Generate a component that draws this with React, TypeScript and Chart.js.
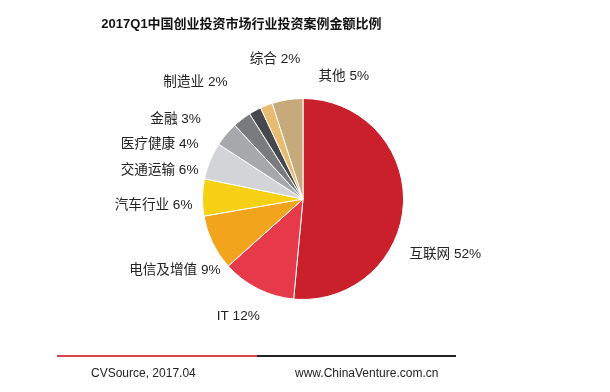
import React, { useEffect, useRef } from "react";
import { Chart, registerables } from "chart.js";

Chart.register(...registerables);

const categories = ["互联网", "IT", "电信及增值", "汽车行业", "交通运输", "医疗健康", "金融", "制造业", "综合", "其他"];
const values = [52, 12, 9, 6, 6, 4, 3, 2, 2, 5];
const colors = ["#C9202B", "#E63A4A", "#F2A41C", "#F6D014", "#D3D4D7", "#A7A8AB", "#7A7B7E", "#46484B", "#E7BC72", "#C7AA7B"];
// label placement relative to the slice's outer mid-point: [dx, dy, align]
const labelLayout: [number, number, CanvasTextAlign][] = [
  [6, 51, "left"],
  [2, 27, "right"],
  [8, 27, "right"],
  [-10, 8, "right"],
  [-11.5, 9, "right"],
  [-27.5, 10, "right"],
  [-41, 0, "right"],
  [-27.5, -28, "right"],
  [34, -46, "right"],
  [31, -23, "left"],
];

const titleText = "2017Q1中国创业投资市场行业投资案例金额比例";
const sourceText = "CVSource, 2017.04";
const siteText = "www.ChinaVenture.com.cn";
const FONT = '"Liberation Sans", Arial, "Noto Sans CJK SC", sans-serif';

const labelPlugin = {
  id: "sliceLabels",
  afterDatasetsDraw(chart: any) {
    const ctx = chart.ctx;
    const meta = chart.getDatasetMeta(0);
    ctx.save();
    ctx.font = `13.6px ${FONT}`;
    ctx.fillStyle = "#222";
    ctx.textBaseline = "middle";
    meta.data.forEach((arc: any, i: number) => {
      const mid = (arc.startAngle + arc.endAngle) / 2;
      const ax = arc.x + Math.cos(mid) * arc.outerRadius;
      const ay = arc.y + Math.sin(mid) * arc.outerRadius;
      const [dx, dy, align] = labelLayout[i];
      ctx.textAlign = align;
      ctx.fillText(`${categories[i]} ${values[i]}%`, ax + dx, ay + dy);
    });
    ctx.restore();
  },
};

export default function App() {
  const ref = useRef<HTMLCanvasElement>(null);
  useEffect(() => {
    if (!ref.current) return;
    const chart = new Chart(ref.current, {
      type: "pie",
      data: {
        labels: categories,
        datasets: [
          {
            data: values,
            backgroundColor: colors,
            borderColor: "#ffffff",
            borderWidth: 1,
          },
        ],
      },
      options: {
        responsive: false,
        animation: false,
        devicePixelRatio: 1,
        layout: { padding: { left: 202, right: 206, top: 98, bottom: 92 } },
        plugins: {
          legend: { display: false },
          title: { display: false },
          tooltip: { enabled: false },
        },
      },
      plugins: [labelPlugin],
    });
    return () => chart.destroy();
  }, []);

  const textBase: React.CSSProperties = {
    position: "absolute",
    fontFamily: FONT,
    color: "#222",
    whiteSpace: "nowrap",
    lineHeight: "16px",
  };

  return (
    <div style={{ position: "absolute", left: 0, top: 0, width: 610, height: 392, background: "#fff", overflow: "hidden" }}>
      <canvas ref={ref} width={610} height={392} style={{ position: "absolute", left: 0, top: 0 }} />
      <div style={{ ...textBase, left: 0, width: 483, top: 16, textAlign: "center", fontSize: 13, fontWeight: "bold", color: "#111" }}>
        {titleText}
      </div>
      <div style={{ position: "absolute", left: 57, top: 355, width: 200, height: 2, background: "#D9434B" }} />
      <div style={{ position: "absolute", left: 257, top: 355, width: 199, height: 2, background: "#222" }} />
      <div style={{ ...textBase, left: 91, top: 365, fontSize: 12 }}>{sourceText}</div>
      <div style={{ ...textBase, left: 295, top: 365, fontSize: 12 }}>{siteText}</div>
    </div>
  );
}
